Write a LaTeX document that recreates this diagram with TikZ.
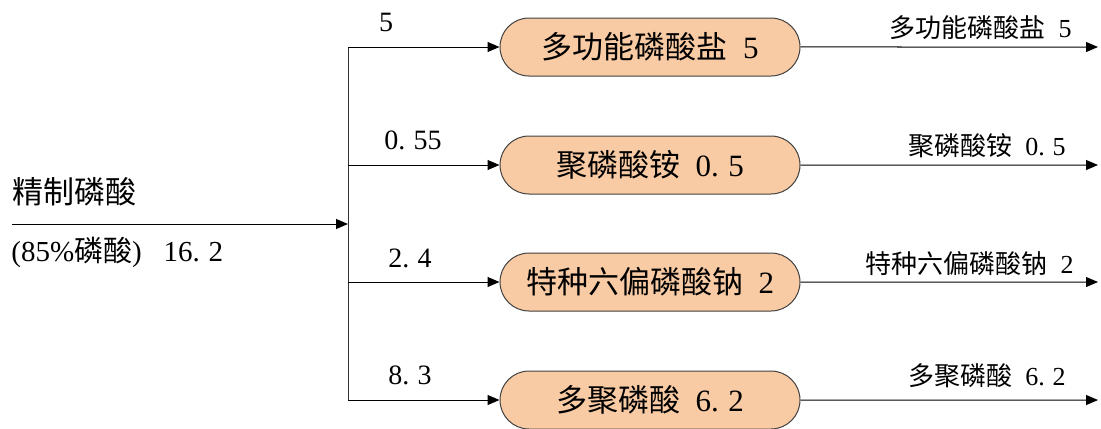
\documentclass[tikz,border=0pt]{standalone}
\usepackage{fontspec}
\setmainfont{Liberation Serif}
\newfontfamily\cjk{Noto Sans CJK SC}
\usetikzlibrary{arrows.meta,shapes.misc}
\definecolor{peach}{HTML}{F8CBA4}
\newcommand\zdot{.\hspace{0.3em}}
\newcommand\zsp{\hspace{0.5em}}
\begin{document}
\begin{tikzpicture}[x=0.5pt,y=-0.5pt,
  proc/.style={rounded rectangle, draw=black!75, line width=0.5pt, fill=peach,
    minimum width=150pt, minimum height=29pt, inner sep=0pt,
    font=\fontsize{15.5}{17}\selectfont},
  flow/.style={draw=black, line width=0.5pt, -{Triangle[length=6pt,width=5pt]}},
  seg/.style={draw=black!80, line width=0.5pt},
  lbl/.style={inner sep=0pt, font=\fontsize{14}{16}\selectfont},
  rlbl/.style={inner sep=0pt, anchor=east, font=\fontsize{13}{15}\selectfont},
  inlbl/.style={inner sep=0pt, anchor=west, font=\fontsize{15.5}{17}\selectfont}]
\useasboundingbox (0,0) rectangle (1101,428);
% input
\node[inlbl] (t1) at (12,192) {\cjk 精制磷酸};
\node[inlbl, font=\fontsize{14.5}{16}\selectfont] (t2) at (11,252) {(85\%{\cjk 磷酸})\zsp\ 16\zdot2};
\coordinate (in) at (12,224);
\coordinate (j0) at (348,224);
\coordinate (j1) at (348,47);
\coordinate (j2) at (348,165);
\coordinate (j3) at (348,282);
\coordinate (j4) at (348,400);
\draw[flow] (in) -- (j0);
\draw[seg] (j1) -- (j4);
% boxes
\node[proc] (b1) at (650,47) {{\cjk 多功能磷酸盐}\zsp5};
\node[proc] (b2) at (650,165) {{\cjk 聚磷酸铵}\zsp0\zdot5};
\node[proc] (b3) at (650,282) {{\cjk 特种六偏磷酸钠}\zsp2};
\node[proc] (b4) at (650,400) {{\cjk 多聚磷酸}\zsp6\zdot2};
\draw[flow] (j1) -- (b1);
\draw[flow] (j2) -- (b2);
\draw[flow] (j3) -- (b3);
\draw[flow] (j4) -- (b4);
\node[lbl] (n1) at (386,22) {5};
\node[lbl] (n2) at (413,140) {0\zdot55};
\node[lbl] (n3) at (410,258) {2\zdot4};
\node[lbl] (n4) at (410,375) {8\zdot3};
% outputs
\coordinate (e1) at (1098,47);
\coordinate (e2) at (1098,165);
\coordinate (e3) at (1098,282);
\coordinate (e4) at (1098,400);
\draw[flow] (b1) -- (e1);
\draw[flow] (b2) -- (e2);
\draw[flow] (b3) -- (e3);
\draw[flow] (b4) -- (e4);
\node[rlbl] (o1) at (1072,28) {{\cjk 多功能磷酸盐}\zsp5};
\node[rlbl] (o2) at (1066,146) {{\cjk 聚磷酸铵}\zsp0\zdot5};
\node[rlbl] (o3) at (1074,264) {{\cjk 特种六偏磷酸钠}\zsp2};
\node[rlbl] (o4) at (1066,376) {{\cjk 多聚磷酸}\zsp6\zdot2};
\end{tikzpicture}
\end{document}
